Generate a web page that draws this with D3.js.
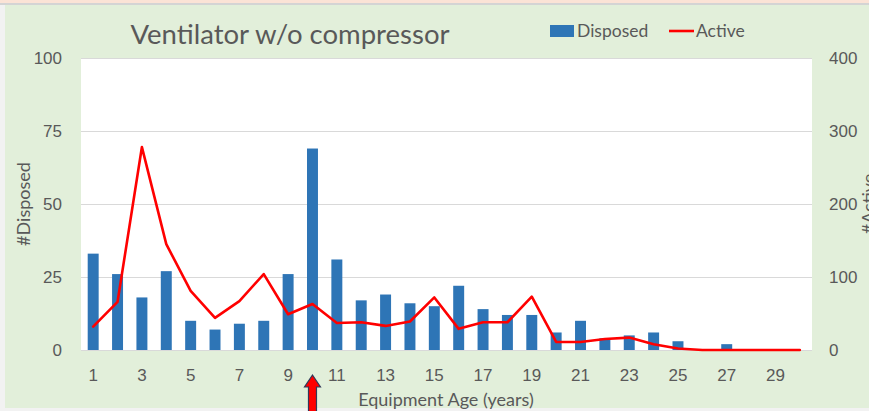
<!DOCTYPE html>
<html>
<head>
<meta charset="utf-8">
<script src="https://cdn.jsdelivr.net/npm/d3@7"></script>
<style>
  body { margin: 0; padding: 0; background: #fff; }
  svg { display: block; font-family: Lato, "Open Sans", sans-serif; }
</style>
</head>
<body>
<div id="chart"></div>
<script>
'use strict';

// data
var ages     = d3.range(1, 31);
var disposed = [33, 26, 18, 27, 10, 7, 9, 10, 26, 69, 31, 17, 19, 16, 15, 22, 14, 12, 12, 6, 10, 4, 5, 6, 3, 0, 2, 0, 0, 0];
var active   = [32, 66, 278, 145, 81, 44, 67, 104, 49, 63, 37, 38, 33, 39, 72, 29, 38, 38, 73, 11, 11, 15, 17, 8, 2, 0, 0, 0, 0, 0];
var leftTicks  = [0, 25, 50, 75, 100];
var rightTicks = [0, 100, 200, 300, 400];
var xTickLabels = ages.filter(function(d){ return d % 2 === 1; });
var highlightAge = 10;

//configuration
var config = {};
config.width   = 869;
config.height  = 411;
config.left    = 81;
config.right   = 812;
config.top     = 58;
config.bottom  = 350;
config.textCol = '#595959';
config.barCol  = '#2e75b6';
config.lineCol = '#ff0000';
config.gridCol = '#d9d9d9';
config.tickSize  = '17px';
config.titleSize = '18px';

var svg = d3.select('#chart')
    .append('svg')
    .attr('width', config.width)
    .attr('height', config.height);

//backgrounds
svg.append('rect').attr('width', config.width).attr('height', config.height).attr('fill', '#f2f2f2');
svg.append('rect').attr('width', config.width).attr('height', 4).attr('fill', '#fbe3d6');
svg.append('rect').attr('y', 3).attr('width', config.width).attr('height', 2).attr('fill', '#d4d4d4');
svg.append('rect').attr('x', 5).attr('y', 5).attr('width', config.width - 5).attr('height', 403).attr('fill', '#e2efda');
svg.append('rect')
    .attr('x', config.left).attr('y', config.top)
    .attr('width', config.right - config.left)
    .attr('height', config.bottom - config.top)
    .attr('fill', '#fff');

//scales
var x = d3.scaleBand()
    .domain(ages)
    .range([config.left, config.right])
    .paddingInner(0.55)
    .paddingOuter(0.275);

var yL = d3.scaleLinear().domain([0, 100]).range([config.bottom, config.top]);
var yR = d3.scaleLinear().domain([0, 400]).range([config.bottom, config.top]);

//grid
svg.append('g')
    .selectAll('line')
    .data(leftTicks)
    .enter()
        .append('line')
        .attr('x1', config.left)
        .attr('x2', config.right)
        .attr('y1', function(d){ return yL(d) + 0.5; })
        .attr('y2', function(d){ return yL(d) + 0.5; })
        .attr('stroke', config.gridCol)
        .attr('stroke-width', 1);

//bars
svg.append('g')
    .selectAll('rect')
    .data(disposed)
    .enter()
        .append('rect')
        .attr('x', function(d, i){ return x(ages[i]); })
        .attr('width', x.bandwidth())
        .attr('y', function(d){ return yL(d); })
        .attr('height', function(d){ return yL(0) - yL(d); })
        .attr('fill', config.barCol);

//active line
var line = d3.line()
    .x(function(d, i){ return x(ages[i]) + x.bandwidth() / 2; })
    .y(function(d){ return yR(d); });

svg.append('path')
    .datum(active)
    .attr('d', line)
    .attr('fill', 'none')
    .attr('stroke', config.lineCol)
    .attr('stroke-width', 2.6)
    .attr('stroke-linejoin', 'round')
    .attr('stroke-linecap', 'round');

//axes
var leftAxis = d3.axisLeft(yL).tickValues(leftTicks).tickSize(0).tickPadding(19);
svg.append('g')
    .attr('transform', 'translate(' + config.left + ',0)')
    .call(leftAxis)
    .call(function(g){ g.select('.domain').remove(); })
    .selectAll('text')
        .attr('fill', config.textCol)
        .style('font-size', config.tickSize);

var rightAxis = d3.axisRight(yR).tickValues(rightTicks).tickSize(0).tickPadding(17);
svg.append('g')
    .attr('transform', 'translate(' + config.right + ',0)')
    .call(rightAxis)
    .call(function(g){ g.select('.domain').remove(); })
    .selectAll('text')
        .attr('fill', config.textCol)
        .style('font-size', config.tickSize);

var bottomAxis = d3.axisBottom(x).tickValues(xTickLabels).tickSize(0).tickPadding(19);
svg.append('g')
    .attr('transform', 'translate(0,' + config.bottom + ')')
    .call(bottomAxis)
    .call(function(g){ g.select('.domain').remove(); })
    .selectAll('text')
        .attr('fill', config.textCol)
        .style('font-size', config.tickSize);

//titles
svg.append('text')
    .attr('x', 290)
    .attr('y', 44)
    .attr('text-anchor', 'middle')
    .attr('fill', config.textCol)
    .style('font-size', '27.5px')
    .text('Ventilator w/o compressor');

svg.append('text')
    .attr('transform', 'translate(30,204) rotate(-90)')
    .attr('text-anchor', 'middle')
    .attr('fill', config.textCol)
    .style('font-size', config.titleSize)
    .text('#Disposed');

svg.append('text')
    .attr('transform', 'translate(875,204) rotate(-90)')
    .attr('text-anchor', 'middle')
    .attr('fill', config.textCol)
    .style('font-size', config.titleSize)
    .text('#Active');

svg.append('text')
    .attr('x', 446)
    .attr('y', 406)
    .attr('text-anchor', 'middle')
    .attr('fill', config.textCol)
    .style('font-size', config.titleSize)
    .text('Equipment Age (years)');

//legend
var legend = svg.append('g');
legend.append('rect')
    .attr('x', 550).attr('y', 25)
    .attr('width', 24).attr('height', 12)
    .attr('fill', config.barCol);
legend.append('text')
    .attr('x', 577).attr('y', 37)
    .attr('fill', config.textCol)
    .style('font-size', '17.5px')
    .text('Disposed');
legend.append('line')
    .attr('x1', 669).attr('x2', 694)
    .attr('y1', 31).attr('y2', 31)
    .attr('stroke', config.lineCol)
    .attr('stroke-width', 2.6);
legend.append('text')
    .attr('x', 696).attr('y', 37)
    .attr('fill', config.textCol)
    .style('font-size', '17.5px')
    .text('Active');

//arrow under the highlighted age
var ax = x(highlightAge) + x.bandwidth() / 2;
var arrow = d3.path();
arrow.moveTo(ax, 375);
arrow.lineTo(ax + 8, 387);
arrow.lineTo(ax + 4, 387);
arrow.lineTo(ax + 4, 412);
arrow.lineTo(ax - 4, 412);
arrow.lineTo(ax - 4, 387);
arrow.lineTo(ax - 8, 387);
arrow.closePath();
svg.append('path')
    .attr('d', arrow.toString())
    .attr('fill', '#ff0000')
    .attr('stroke', '#2f3a5a')
    .attr('stroke-width', 1.2);
</script>
</body>
</html>
